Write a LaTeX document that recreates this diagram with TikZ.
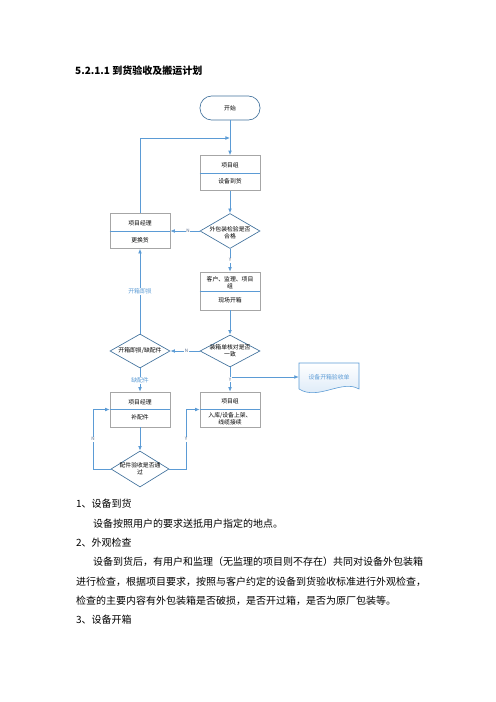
\documentclass[tikz,border=0pt]{standalone}
\usepackage{fontspec}
\setmainfont{Noto Sans CJK SC}
\usepackage{tikz}
\usetikzlibrary{positioning}
\usetikzlibrary{shapes.geometric}
\usetikzlibrary{arrows.meta}

\definecolor{lineblue}{RGB}{91,155,213}
\definecolor{edgeblue}{RGB}{65,113,156}
\definecolor{boxgray}{RGB}{166,166,166}
\definecolor{docfill}{RGB}{214,230,246}
\definecolor{yngray}{RGB}{90,110,140}

\tikzset{
	flow/.style={lineblue, line width=0.9pt, -{Latex[length=5.5pt, width=4.5pt]}},
	box/.style={draw=boxgray, line width=0.7pt, minimum width=72pt, minimum height=42pt, inner sep=0pt},
	divide/.style={lineblue, line width=0.7pt},
	decision/.style={diamond, draw=edgeblue, line width=0.8pt, inner sep=0pt},
	small/.style={font=\fontsize{7pt}{8.6pt}\selectfont, align=center, inner sep=0.5pt},
	yn/.style={font=\fontsize{5.5pt}{6.5pt}\selectfont, text=yngray, fill=white, inner sep=0.8pt},
	note/.style={font=\fontsize{7pt}{8.5pt}\selectfont, text=lineblue, fill=white, inner sep=1pt},
	body/.style={anchor=west, font=\fontsize{12pt}{14pt}\selectfont, inner sep=0pt}
}

\begin{document}
\begin{tikzpicture}[x=1.2pt, y=-1.2pt]
		\useasboundingbox (0,0) rectangle (496,702);
		\node[anchor=west, font=\fontsize{12pt}{14pt}\selectfont\bfseries, inner sep=0pt] (title) at (75,71) {5.2.1.1 到货验收及搬运计划};

		% flowchart
		\node[draw=edgeblue, line width=0.8pt, rounded corners=14pt, minimum width=72pt, minimum height=28.8pt, font=\fontsize{7pt}{8.6pt}\selectfont] (kaishi) at (230,108) {开始};

		\node[box] (zu1) at (230,173) {};
		\draw[divide] (zu1.west) -- (zu1.east);
		\node[small] (zu1a) at (230,165) {项目组};
		\node[small] (zu1b) at (230,181) {设备到货};

		\node[decision, minimum width=72pt, minimum height=42pt] (waibao) at (230,231) {};
		\node[small] (waibaot) at (230,233) {外包装检验是否\\合格};

		\node[box] (jl1) at (140,231) {};
		\draw[divide] (jl1.west) -- (jl1.east);
		\node[small] (jl1a) at (140,223) {项目经理};
		\node[small] (jl1b) at (140,240) {更换货};

		\node[box, minimum height=45.6pt] (kh) at (230,291) {};
		\draw[divide] (kh.west) -- (kh.east);
		\node[small] (kha) at (230,283) {客户、监理、项目\\组};
		\node[small] (khb) at (230,300) {现场开箱};

		\node[decision, minimum width=72pt, minimum height=38.4pt] (hedui) at (230,351) {};
		\node[small] (heduit) at (230,351) {装箱单核对是否\\一致};

		\node[decision, minimum width=72pt, minimum height=40.8pt] (kaixiang) at (140,351) {};
		\node[small] (kaixiangt) at (140,351) {开箱即损/缺配件};

		\node[box] (jl2) at (140,409.5) {};
		\draw[divide] (jl2.west) -- (jl2.east);
		\node[small] (jl2a) at (140,402) {项目经理};
		\node[small] (jl2b) at (140,417) {补配件};

		\node[box] (zu2) at (230,409.5) {};
		\draw[divide] (zu2.west) -- (zu2.east);
		\node[small] (zu2a) at (230,401) {项目组};
		\node[small] (zu2b) at (230,418.5) {入库/设备上架、\\线缆接续};

		\node[decision, minimum width=69.6pt, minimum height=43.2pt] (peijian) at (140,469) {};
		\node[small] (peijiant) at (140,468.5) {配件验收是否通\\过};

		% document
		\shade[top color=white, bottom color=docfill, draw=lineblue, line width=0.7pt] (299,363) -- (359,363) -- (359,389) .. controls (342,379) and (318,401) .. (299,389) -- cycle;
		\node[small, text=lineblue, minimum width=72pt, inner sep=0pt] (danju) at (329,377) {设备开箱验收单};

		% connectors
		\coordinate (huiliu) at (230,138);
		\coordinate (nzuo) at (93,469);
		\coordinate (yyou) at (186,469);
		\draw[flow] (kaishi.south) -- (zu1.north);
		\draw[flow] (jl1.north) |- (huiliu);
		\draw[flow] (zu1.south) -- (waibao.north);
		\draw[flow] (waibao.west) -- node[yn, pos=0.4]{N} (jl1.east);
		\draw[flow] (waibao.south) -- node[yn]{Y} (kh.north);
		\draw[flow] (kh.south) -- (hedui.north);
		\draw[flow] (hedui.west) -- node[yn, pos=0.45]{N} (kaixiang.east);
		\draw[flow] (kaixiang.north) -- node[note]{开箱即损} (jl1.south);
		\draw[flow] (kaixiang.south) -- node[note]{缺配件} (jl2.north);
		\draw[flow] (hedui.south |- danju.west) -- (danju.west);
		\draw[flow] (hedui.south) -- node[yn]{Y} (zu2.north);
		\draw[flow] (jl2.south) -- (peijian.north);
		\draw[flow] (peijian.west) -- (nzuo) -- node[yn]{N} (nzuo |- jl2.west) -- (jl2.west);
		\draw[flow] (peijian.east) -- (yyou) -- node[yn]{Y} (yyou |- zu2.west) -- (zu2.west);

		% text below
		\node[body] (t1) at (76,504) {1、设备到货};
		\node[body] (t2) at (93,524) {设备按照用户的要求送抵用户指定的地点。};
		\node[body] (t3) at (76,543) {2、外观检查};
		\node[body] (t4) at (93,562) {设备到货后，有用户和监理（无监理的项目则不存在）共同对设备外包装箱};
		\node[body] (t5) at (76,582) {进行检查，根据项目要求，按照与客户约定的设备到货验收标准进行外观检查，};
		\node[body] (t6) at (76,601) {检查的主要内容有外包装箱是否破损，是否开过箱，是否为原厂包装等。};
		\node[body] (t7) at (76,620) {3、设备开箱};
	\end{tikzpicture}
\end{document}
